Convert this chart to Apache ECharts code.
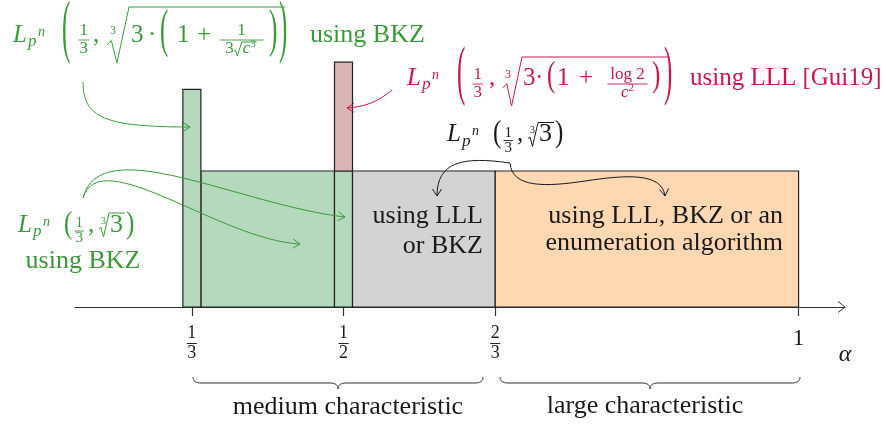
<!DOCTYPE html>
<html><head><meta charset="utf-8">
<script src="https://cdn.jsdelivr.net/npm/echarts@6/dist/echarts.min.js"></script>
<style>html,body{margin:0;padding:0;background:#fff}#c{width:886px;height:424px}</style>
</head><body><div id="c"></div>
<script>
// ---------------- data ----------------
const tickValues = [1/3, 1/2, 2/3, 1];
const tickNumerators = ['1', '1', '2', ''];
const tickDenominators = ['3', '2', '3', ''];
const tickWholes = ['', '', '', '1'];

const regionNames  = ['BKZ (medium)', 'BKZ at 1/3', 'BKZ at 1/2', 'LLL [Gui19] at 1/2', 'LLL or BKZ', 'LLL, BKZ or enumeration'];
const regionStart  = [0.3433, 0.3235, 0.4901, 0.4901, 0.5099, 0.6667];
const regionEnd    = [0.4901, 0.3433, 0.5099, 0.5099, 0.6667, 1.0];
const regionBottom = [0, 0, 0, 1, 0, 0];
const regionTop    = [1, 1.6, 1, 1.8, 1, 1];

// ---------------- styles ----------------
const regionFill = ['#b5d9bd', '#b5d9bd', '#b5d9bd', '#d9b5b6', '#d3d3d3', '#fed8b2'];
const G = '#3a9a3a', RD = '#c8194b', K = '#1a1a1a';
const FONT = '"Liberation Serif","DejaVu Serif",serif';
const ZT = 100;

const mctx = document.createElement('canvas').getContext('2d');
function tw(s, size, it) { mctx.font = (it ? 'italic ' : '') + size + 'px ' + FONT; return mctx.measureText(s).width; }
function txt(v, x, y, size, it, color, sy, align) {
  return { type: 'text', x: x, y: y, scaleY: sy || 1, silent: true, z: ZT,
    style: { text: v, x: 0, y: 0, fontSize: size, fontFamily: FONT, fontStyle: it ? 'italic' : 'normal',
      fill: color, textAlign: align || 'left', textVerticalAlign: 'middle' } };
}
function poly(points, color, lw) {
  return { type: 'polyline', silent: true, z: ZT, shape: { points: points }, style: { stroke: color, lineWidth: lw || 1, fill: null } };
}
const T = (v, o) => Object.assign({ k: 't', v: v }, o || {});
const SP = w => ({ k: 'sp', w: w });
const AT = x => ({ k: 'at', x: x });
const P = (v, sy, o) => Object.assign({ k: 't', v: v, sy: sy, dy: -(sy - 1) * 2.2 }, o || {});
const toks = (a, s) => a.map(x => typeof x === 'string' ? T(x, { s: s }) : x);
const F = (n, d, o) => Object.assign({ k: 'f', n: n, d: d }, o || {});
const RT = o => Object.assign({ k: 'r' }, o);

function lay(tokens, x, cy, color, out, base) {
  for (const tk of tokens) {
    if (tk.k === 'sp') { x += tk.w; continue; }
    if (tk.k === 'at') { x = base + tk.x; continue; }
    if (tk.k === 't') {
      const s = tk.s || 25;
      out.push(txt(tk.v, x, cy + (tk.dy || 0), s, tk.i, color, tk.sy));
      x += tw(tk.v, s, tk.i) + (tk.a || 0);
      continue;
    }
    if (tk.k === 'f') {
      const s = tk.s || 17;
      const n = toks(tk.n, s), d = toks(tk.d, s);
      const wn = lay(n, 0, 0, color, [], 0), wd = lay(d, 0, 0, color, [], 0);
      const w = Math.max(wn, wd, tk.mw || 0) + 3;
      const by = cy + (tk.by == null ? 5 : tk.by);
      lay(n, x + (w - wn) / 2, by - (tk.nu || 9), color, out, base);
      lay(d, x + (w - wd) / 2, by + (tk.de || 9), color, out, base);
      out.push(poly([[x + 0.5, by], [x + w - 0.5, by]], color, 0.9));
      x += w + 1; continue;
    }
    if (tk.k === 'r') {
      const w = tk.w, up = tk.up, dn = tk.dn;
      const bodyEnd = lay(tk.body, x + w + 1, cy, color, out, base);
      out.push(poly([[x, cy + dn * 0.35], [x + w * 0.2, cy + dn * 0.2], [x + w * 0.45, cy + dn], [x + w, cy - up], [bodyEnd + (tk.ext || 1), cy - up]], color, 1));
      if (tk.idx) out.push(txt(tk.idx, x + (tk.ix || 2), cy + (tk.iy || -5), tk.is || 12, false, color));
      x = bodyEnd + 2; continue;
    }
  }
  return x;
}

const Lpn = [AT(0), T('L', { i: 1 }), AT(15), T('p', { i: 1, s: 17, dy: 7 }), AT(25), T('n', { i: 1, s: 14, dy: -3 })];

const greenTop = [...Lpn, AT(49), P('(', 2.8), AT(65), F(['1'], ['3']), AT(80), T(','),
  AT(94), RT({ idx: '3', w: 22, up: 28, dn: 28, ix: 3, iy: -4, ext: 8, body: [AT(118), T('3'), AT(135), T('·'), AT(147), P('(', 2.1), AT(164), T('1'), AT(184), T('+'),
    AT(206), F(['1'], ['3', RT({ w: 8, up: 7, dn: 7, body: [T('c', { s: 17, i: 1 }), T('3', { s: 11, dy: -5 })] })], { mw: 42 }), AT(256), P(')', 2.1)] }),
  AT(266), P(')', 2.8)];

const redTop = [...Lpn, AT(50), P('(', 2.6), AT(65), F(['1'], ['3'], { by: 6 }), AT(82), T(','),
  AT(96), RT({ idx: '3', w: 19, up: 21, dn: 28, ix: 2, iy: -3, ext: 8, body: [AT(116), T('3'), AT(128), T('·'), AT(140), P('(', 1.4), AT(150), T('1'), AT(172), T('+'),
    AT(200), F(['log 2'], [T('c', { s: 17, i: 1 }), T('2', { s: 11, dy: -5 })], { mw: 38, by: 6 }), AT(245), P(')', 1.4)] }),
  AT(257), P(')', 2.6)];

const simple = [...Lpn, AT(46), P('(', 1.25), AT(56), F(['1'], ['3'], { s: 15, by: 6, nu: 7.5, de: 7.5 }), AT(70), T(','),
  AT(81), RT({ idx: '3', w: 10, up: 12, dn: 12, ix: 2, iy: -4, is: 10, ext: 2, body: [AT(92), T('3', { s: 26 })] }), AT(108), P(')', 1.25)];

function bez(p0, p1, p2, p3, color) {
  return { type: 'bezierCurve', silent: true, z: ZT, shape: { x1: p0[0], y1: p0[1], cpx1: p1[0], cpy1: p1[1], cpx2: p2[0], cpy2: p2[1], x2: p3[0], y2: p3[1] },
    style: { stroke: color, lineWidth: 1, fill: null } };
}
function head(tip, from, color) {
  const a = Math.atan2(tip[1] - from[1], tip[0] - from[0]);
  const L = 7, W = 4.5;
  const bx = tip[0] - L * Math.cos(a), by = tip[1] - L * Math.sin(a);
  const px = -Math.sin(a), py = Math.cos(a);
  return poly([[bx + W * px, by + W * py], tip, [bx - W * px, by - W * py]], color, 1);
}
function brace(x1, x2, y0, color) {
  const xm = (x1 + x2) / 2, h = 6, r = 8, pts = [];
  const q = (a, c, b) => { for (let i = 0; i <= 8; i++) { const t = i / 8; pts.push([(1-t)*(1-t)*a[0] + 2*(1-t)*t*c[0] + t*t*b[0], (1-t)*(1-t)*a[1] + 2*(1-t)*t*c[1] + t*t*b[1]]); } };
  q([x1, y0], [x1, y0 + h], [x1 + r, y0 + h]);
  q([xm - r, y0 + h], [xm, y0 + h], [xm, y0 + 2 * h]);
  q([xm, y0 + 2 * h], [xm, y0 + h], [xm + r, y0 + h]);
  q([x2 - r, y0 + h], [x2, y0 + h], [x2, y0]);
  return poly(pts, color, 1);
}

const chart = echarts.init(document.getElementById('c'), null, { renderer: 'canvas' });

const els = [];
lay(greenTop, 13, 35, G, els, 13);
els.push(txt('using BKZ', 310, 35, 26, false, G));
lay(redTop, 407, 78, RD, els, 407);
els.push(txt('using LLL [Gui19]', 690, 78, 25, false, RD));
lay(simple, 447, 134.5, K, els, 447);
lay(simple, 18, 225, G, els, 18);
els.push(txt('using BKZ', 83, 261, 26, false, G, 1, 'center'));
els.push(txt('using LLL', 483, 216, 26, false, K, 1, 'right'));
els.push(txt('or BKZ', 483, 246, 26, false, K, 1, 'right'));
els.push(txt('using LLL, BKZ or an', 783, 216, 26, false, K, 1, 'right'));
els.push(txt('enumeration algorithm', 783, 243, 26, false, K, 1, 'right'));
els.push(txt('medium characteristic', 348, 407, 26, false, K, 1, 'center'));
els.push(txt('large characteristic', 645, 406, 26, false, K, 1, 'center'));
els.push(txt('α', 845, 355, 24, true, K, 1, 'center'));
els.push(brace(193, 483, 377, '#333'));
els.push(brace(500, 800, 377, '#333'));
// axis arrow head
els.push(poly([[838, 301.5], [845, 307], [838, 312.5]], '#333', 1));
// arrows
els.push(bez([83, 82], [83, 118], [105, 127], [190, 127], G));
els.push(head([190, 127], [170, 127], G));
els.push(bez([83, 198], [100, 130], [240, 205], [345, 217], G));
els.push(head([345, 217], [320, 214], G));
els.push(bez([83, 198], [100, 142], [220, 240], [300, 244], G));
els.push(head([300, 244], [280, 243], G));
els.push(bez([392, 90], [378, 102], [364, 107], [347, 108], RD));
els.push(head([347, 108], [362, 107.5], RD));
els.push(bez([510, 163], [462, 156], [437, 162], [437, 196], K));
els.push(head([437, 196], [437, 180], K));
els.push(bez([510, 163], [512, 188], [545, 187], [585, 181], K));
els.push(bez([585, 181], [625, 175], [662, 172], [665, 196], K));
els.push(head([665, 196], [663, 180], K));

const option = {
  animation: false,
  grid: { left: 75, right: 41, top: 35, bottom: 117, outerBoundsMode: 'none' },
  xAxis: {
    type: 'value', min: 0.205, max: 1.051,
    splitLine: { show: false },
    axisLine: { show: true, lineStyle: { color: '#333', width: 1.2 } },
    axisTick: { show: true, customValues: tickValues, length: 9, lineStyle: { color: '#333', width: 1.2 } },
    axisLabel: {
      show: true, customValues: tickValues, margin: 18, color: K,
      formatter: function (v) {
        const i = tickValues.findIndex(t => Math.abs(t - v) < 1e-6);
        if (i < 0) return '';
        if (tickWholes[i]) return '{w|' + tickWholes[i] + '}';
        return '{n|' + tickNumerators[i] + '}\n{b|}\n{d|' + tickDenominators[i] + '}';
      },
      rich: {
        n: { fontSize: 18, fontFamily: FONT, lineHeight: 17, color: K, align: 'center' },
        b: { width: 10, height: 1, backgroundColor: '#222', lineHeight: 3, align: 'center' },
        d: { fontSize: 18, fontFamily: FONT, lineHeight: 17, color: K, align: 'center' },
        w: { fontSize: 23, fontFamily: FONT, lineHeight: 28, color: K, align: 'center' }
      }
    }
  },
  yAxis: { type: 'value', min: 0, max: 2, show: false, splitLine: { show: false } },
  series: [{
    type: 'custom',
    name: 'regions',
    clip: false,
    z: 2,
    encode: { x: [0, 1], y: [2, 3] },
    data: regionStart.map((s, i) => [s, regionEnd[i], regionBottom[i], regionTop[i], regionNames[i]]),
    renderItem: function (params, api) {
      const p0 = api.coord([api.value(0), api.value(3)]);
      const p1 = api.coord([api.value(1), api.value(2)]);
      return { type: 'rect', shape: { x: p0[0], y: p0[1], width: p1[0] - p0[0], height: p1[1] - p0[1] },
        style: { fill: regionFill[params.dataIndex], stroke: '#222', lineWidth: 1.2 } };
    }
  }],
  graphic: { elements: els }
};
chart.setOption(option);
</script>
</body></html>
